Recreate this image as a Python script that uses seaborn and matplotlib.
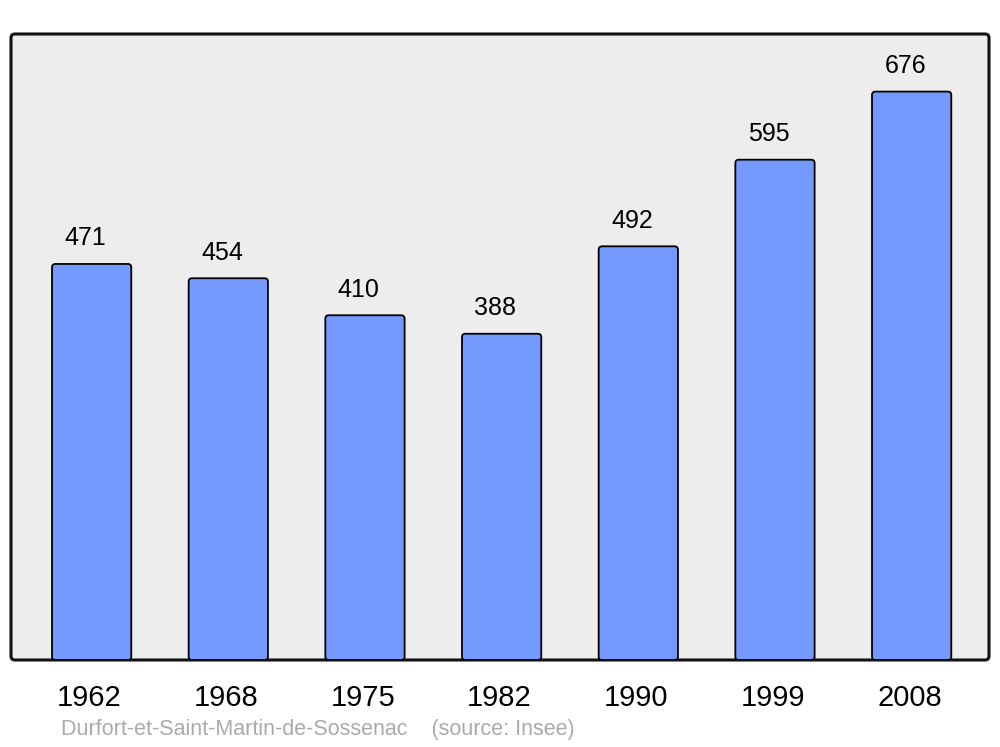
import matplotlib
matplotlib.use("Agg")
import matplotlib.pyplot as plt
import matplotlib.transforms as mtransforms
import seaborn as sns
import pandas as pd
from matplotlib.patches import FancyBboxPatch

years = ["1962", "1968", "1975", "1982", "1990", "1999", "2008"]
population = [471, 454, 410, 388, 492, 595, 676]
commune = "Durfort-et-Saint-Martin-de-Sossenac"
source = "(source: Insee)"

sns.set_theme(style="white")
plt.rcParams["font.family"] = ["Liberation Sans", "DejaVu Sans"]

df = pd.DataFrame({"year": years, "pop": population})

fig = plt.figure(figsize=(10, 7.47), dpi=100)
ax = fig.add_axes([0.011, 1 - 660 / 747, 0.978, (660 - 34) / 747])
ax.set_facecolor("none")

sns.barplot(data=df, x="year", y="pop", ax=ax, color="#7499ff",
            width=0.58, edgecolor="black", linewidth=1.3, saturation=1)

ax.set_xlim(-0.59, 6.566)
ax.set_ylim(0, 744.5)

# rounded bars
px_x = 978 / (6.566 + 0.59)
px_y = 626 / 744.5
for p in list(ax.patches):
    x, y = p.get_x(), p.get_y()
    w, h = p.get_width(), p.get_height()
    rb = FancyBboxPatch((x, y), w, h,
                        boxstyle="round,pad=0,rounding_size=0.025",
                        mutation_aspect=px_x / px_y,
                        facecolor=p.get_facecolor(), edgecolor="black",
                        linewidth=1.3, zorder=2)
    p.remove()
    ax.add_patch(rb)

# background frame
frame = FancyBboxPatch((0, 0), 1, 1, boxstyle="round,pad=0,rounding_size=0.004",
                       mutation_aspect=978 / 626,
                       transform=ax.transAxes, facecolor="#ededed",
                       edgecolor="#111111", linewidth=2.2, zorder=0,
                       clip_on=False)
ax.add_patch(frame)
for s in ax.spines.values():
    s.set_visible(False)

for i, v in enumerate(population):
    ax.annotate(str(v), (i, v), xytext=(-4.5, 18.5), textcoords="offset points",
                ha="center", va="center", fontsize=18, color="black")

ax.set_yticks([])
ax.set_xlabel("")
ax.set_ylabel("")
ax.tick_params(axis="x", length=0, pad=17, labelsize=21, labelcolor="black")
shift = mtransforms.ScaledTranslation(-1.5 / 72, 0, fig.dpi_scale_trans)
for lbl in ax.get_xticklabels():
    lbl.set_transform(lbl.get_transform() + shift)

fig.text(61 / 1000, 1 - 730 / 747, commune + "    " + source, fontsize=15.5,
         color="#aaaaaa", ha="left", va="center")

fig.savefig("out.png", dpi=100, facecolor="white")
